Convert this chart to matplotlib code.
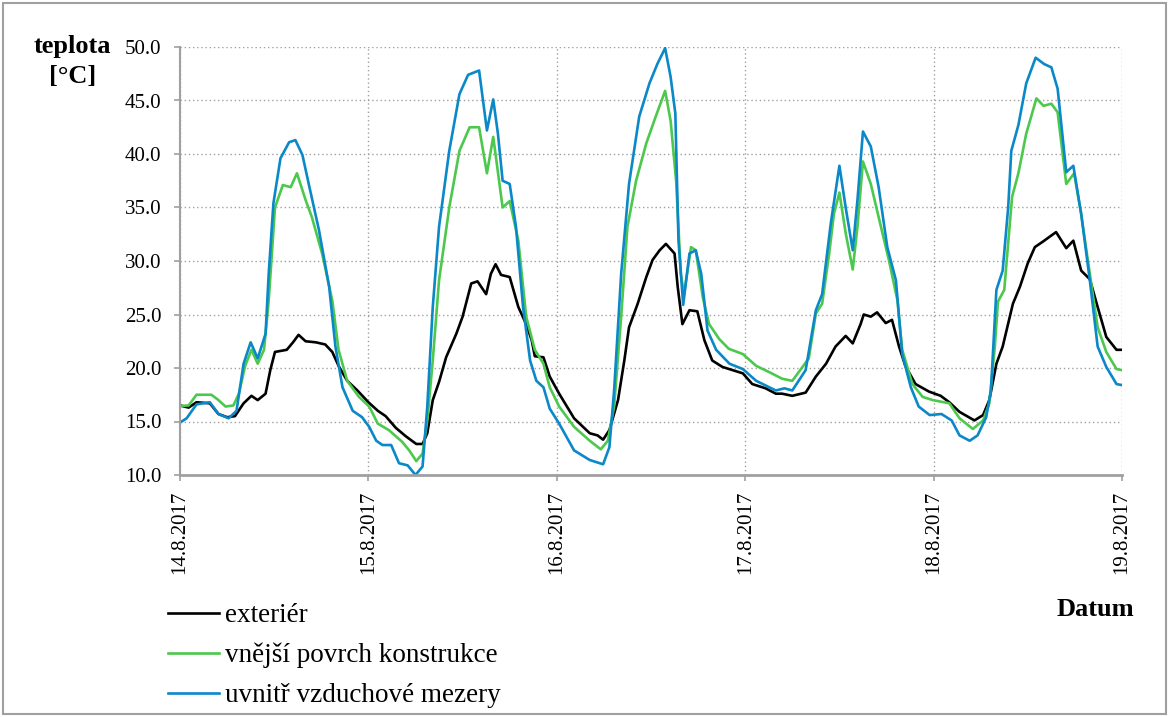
import matplotlib.pyplot as plt
from matplotlib.patches import Rectangle

# time in hours from 14.8.2017 0:00, temperature in degC
ext_h = [0, 1.1, 2.1, 3.8, 4.9, 6.0, 7.0, 8.1, 9.1, 9.9, 10.9, 11.5, 12.1, 13.6, 14.4, 15.1, 16.0,
         17.3, 18.5, 19.4, 20.2, 21.3, 22.6, 24.0, 25.2, 26.2, 27.5, 28.8, 30.1, 30.9, 31.5, 32.2,
         33.0, 33.9, 35.2, 36.0, 37.1, 37.9, 39.0, 39.6, 40.2, 40.9, 42.0, 43.1, 44.1, 44.8, 45.2,
         46.3, 47.1, 48.3, 50.2, 52.2, 53.2, 53.9, 54.7, 55.8, 56.6, 57.2, 58.3, 59.4, 60.2, 61.1,
         61.9, 63.0, 63.4, 64.0, 64.9, 65.9, 66.8, 67.8, 69.1, 70.4, 71.7, 72.9, 74.6, 75.9, 76.7,
         78.0, 79.7, 81.0, 82.3, 83.5, 84.8, 85.7, 86.7, 87.1, 88.0, 88.8, 89.9, 90.7, 91.6, 92.4,
         93.7, 95.4, 96.9, 98.0, 99.3, 101.2, 102.3, 103.1, 104.0, 104.8, 106.1, 107.0, 108.0,
         108.9, 109.9, 111.6, 112.9, 113.8, 114.8, 115.9, 116.9, 118.0, 119.3, 120.0]
ext_t = [16.5, 16.3, 16.8, 16.7, 15.7, 15.4, 15.5, 16.7, 17.4, 17.0, 17.6, 19.8, 21.5, 21.7, 22.4,
         23.1, 22.5, 22.4, 22.2, 21.5, 20.2, 18.8, 17.9, 16.8, 16.0, 15.5, 14.4, 13.6, 12.9, 12.9,
         13.9, 17.0, 18.7, 21.0, 23.2, 24.8, 27.9, 28.1, 26.9, 28.8, 29.7, 28.7, 28.5, 25.7, 24.1,
         22.6, 21.1, 21.0, 19.2, 17.6, 15.3, 13.9, 13.7, 13.3, 14.2, 17.0, 20.7, 23.8, 26.0, 28.5,
         30.1, 31.0, 31.6, 30.7, 27.6, 24.1, 25.4, 25.3, 22.6, 20.7, 20.1, 19.8, 19.5, 18.5, 18.1,
         17.6, 17.6, 17.4, 17.7, 19.2, 20.4, 22.0, 23.0, 22.3, 24.1, 25.0, 24.8, 25.2, 24.2, 24.5,
         22.0, 20.2, 18.5, 17.8, 17.4, 16.8, 15.9, 15.1, 15.6, 17.0, 20.4, 22.0, 26.0, 27.6, 29.8,
         31.3, 31.8, 32.7, 31.2, 31.9, 29.1, 28.3, 25.7, 22.9, 21.7, 21.7]

pov_h = [0, 1.1, 2.1, 4.0, 4.9, 5.8, 6.8, 7.5, 8.3, 9.1, 9.9, 10.7, 11.3, 12.1, 13.1, 14.1, 14.9,
         16.0, 16.8, 18.1, 19.4, 20.2, 21.3, 22.8, 24.1, 25.2, 26.6, 28.3, 29.2, 30.1, 30.9, 31.5,
         32.2, 33.0, 34.3, 35.6, 36.9, 38.1, 39.1, 39.9, 41.1, 42.0, 43.1, 44.1, 45.2, 46.3, 47.1,
         48.3, 50.2, 52.2, 53.6, 54.5, 55.3, 56.2, 57.0, 58.1, 59.4, 60.6, 61.8, 62.5, 63.2, 63.8,
         64.2, 65.1, 65.7, 66.6, 67.4, 68.7, 69.9, 71.7, 73.4, 75.1, 76.7, 78.0, 79.3, 80.1, 81.0,
         81.8, 82.7, 83.3, 84.0, 84.8, 85.7, 86.3, 87.0, 88.0, 89.0, 90.3, 91.4, 92.0, 93.3, 94.6,
         95.9, 98.0, 99.3, 101.0, 102.3, 103.1, 103.8, 104.2, 105.0, 106.0, 106.8, 107.8, 109.1,
         110.0, 111.0, 111.8, 112.9, 113.9, 114.8, 115.9, 116.9, 118.0, 119.3, 120.0]
pov_t = [16.45, 16.5, 17.5, 17.5, 17.0, 16.4, 16.5, 17.6, 20.2, 21.7, 20.4, 21.7, 26.3, 35.0,
         37.1, 36.9, 38.2, 35.7, 34.1, 30.7, 26.3, 21.7, 18.8, 17.3, 16.4, 14.8, 14.2, 13.1, 12.3,
         11.3, 12.0, 15.1, 20.7, 28.2, 35.0, 40.3, 42.5, 42.5, 38.2, 41.6, 35.0, 35.6, 31.9, 24.8,
         21.7, 20.4, 18.2, 16.4, 14.5, 13.2, 12.4, 13.2, 16.4, 24.8, 33.2, 37.5, 41.0, 43.5, 45.9,
         43.1, 37.5, 28.8, 26.9, 31.3, 31.0, 26.6, 24.1, 22.7, 21.8, 21.3, 20.2, 19.6, 19.0, 18.8,
         20.1, 20.9, 25.1, 26.0, 30.7, 34.4, 36.4, 32.6, 29.2, 33.2, 39.3, 37.2, 34.1, 30.1, 26.3,
         21.7, 18.5, 17.3, 17.0, 16.7, 15.3, 14.3, 15.1, 16.7, 22.0, 26.2, 27.3, 36.0, 38.2, 41.9,
         45.2, 44.5, 44.7, 43.9, 37.2, 38.2, 34.4, 28.8, 23.8, 21.5, 19.9, 19.8]

mez_h = [0, 0.85, 2.1, 3.8, 4.9, 6.2, 7.2, 8.1, 9.0, 9.9, 10.9, 11.3, 11.9, 12.8, 13.9, 14.7, 15.6,
         16.4, 17.7, 19.0, 19.8, 20.7, 22.0, 23.2, 24.1, 25.0, 25.8, 26.9, 27.9, 29.0, 30.0, 30.9,
         31.5, 32.2, 33.0, 34.3, 35.6, 36.7, 38.1, 38.6, 39.1, 39.9, 40.5, 41.1, 42.0, 42.8, 43.7,
         44.6, 45.4, 46.3, 47.1, 48.3, 50.2, 52.2, 53.9, 54.7, 55.3, 56.2, 57.2, 58.5, 59.8, 60.8,
         61.8, 62.5, 63.1, 63.5, 64.1, 64.9, 65.7, 66.4, 67.2, 68.3, 70.0, 71.7, 73.4, 75.9, 77.0,
         78.0, 79.7, 81.0, 81.8, 82.9, 84.0, 84.8, 85.7, 86.3, 87.0, 88.0, 89.0, 90.1, 91.2, 92.0,
         93.1, 94.1, 95.5, 97.0, 98.3, 99.3, 100.6, 101.6, 102.7, 103.3, 104.0, 104.8, 105.5,
         105.9, 106.8, 107.8, 109.0, 110.1, 111.0, 111.8, 112.9, 113.8, 114.8, 115.9, 116.9,
         118.0, 119.3, 120.0]
mez_t = [14.9, 15.3, 16.6, 16.8, 15.7, 15.3, 16.0, 20.4, 22.4, 20.9, 23.2, 28.8, 35.4, 39.6, 41.1,
         41.3, 39.9, 37.2, 32.9, 27.6, 22.0, 18.2, 16.0, 15.4, 14.5, 13.2, 12.8, 12.8, 11.1, 10.9,
         10.0, 10.8, 16.4, 25.7, 33.2, 40.3, 45.6, 47.4, 47.8, 45.0, 42.2, 45.1, 41.9, 37.5, 37.2,
         33.2, 25.7, 20.7, 18.8, 18.2, 16.2, 14.8, 12.3, 11.4, 11.0, 12.6, 17.9, 28.8, 37.2, 43.5,
         46.6, 48.4, 49.9, 47.2, 43.8, 31.9, 25.9, 30.7, 31.0, 28.8, 23.5, 21.7, 20.4, 19.9, 18.8,
         17.9, 18.1, 17.9, 19.8, 25.4, 26.9, 33.5, 38.9, 35.0, 31.0, 35.7, 42.1, 40.7, 36.9, 31.3,
         28.2, 21.3, 18.2, 16.4, 15.6, 15.7, 15.1, 13.7, 13.2, 13.7, 15.4, 17.9, 27.3, 29.1, 35.0,
         40.3, 42.7, 46.6, 49.0, 48.4, 48.1, 46.1, 38.3, 38.9, 34.4, 28.2, 22.0, 20.1, 18.5, 18.4]

day_ticks = [0, 24, 48, 72, 96, 120]
day_labels = ["14.8.2017", "15.8.2017", "16.8.2017", "17.8.2017", "18.8.2017", "19.8.2017"]
y_ticks = [10, 15, 20, 25, 30, 35, 40, 45, 50]

plt.rcParams["font.family"] = ["Liberation Serif", "DejaVu Serif"]

fig = plt.figure(figsize=(11.7, 7.17), dpi=100)
ax = fig.add_axes([180 / 1170, 1 - 475 / 717, 942 / 1170, 428 / 717])

ax.plot(ext_h, ext_t, color="black", lw=1.9, label="exteriér")
ax.plot(pov_h, pov_t, color="#4CC84C", lw=1.9, label="vnější povrch konstrukce")
ax.plot(mez_h, mez_t, color="#0A88C8", lw=1.9, label="uvnitř vzduchové mezery")

ax.set_xlim(0, 120)
ax.set_ylim(10, 50)
ax.set_xticks(day_ticks)
ax.set_xticklabels(day_labels, rotation=90, fontsize=15)
ax.set_yticks(y_ticks)
ax.set_yticklabels(["%.1f" % v for v in y_ticks], fontsize=15)

ax.grid(True, color="#A0A0A0", linestyle=(0, (1, 2)), lw=1.0)
for s in ["top", "right"]:
    ax.spines[s].set_visible(False)
for s in ["left", "bottom"]:
    ax.spines[s].set_color("#A0A0A0")
ax.spines["left"].set_linewidth(1.5)
ax.spines["bottom"].set_linewidth(2)
ax.tick_params(axis="both", colors="#A0A0A0", labelcolor="black", length=4.5, width=1.2)
ax.tick_params(axis="y", pad=9)
ax.tick_params(axis="x", pad=6.5)

fig.text(72 / 1170, 1 - 46 / 717, "teplota", fontsize=19, fontweight="bold", ha="center", va="center")
fig.text(73 / 1170, 1 - 76 / 717, "[°C]", fontsize=19, fontweight="bold", ha="center", va="center")
fig.text(1134 / 1170, 1 - 609 / 717, "Datum", fontsize=19, fontweight="bold", ha="right", va="center")

fig.legend(loc="upper left", bbox_to_anchor=(168 / 1170, 1 - 603 / 717), frameon=False,
           fontsize=19.5, handlelength=1.9, handletextpad=0.2, labelspacing=0.55,
           borderpad=0, borderaxespad=0)

fig.patches.append(Rectangle((3 / 1170, 3 / 717), 1163 / 1170, 711 / 717, transform=fig.transFigure,
                             fill=False, edgecolor="#A0A0A0", lw=1.5))

fig.savefig("out.png", dpi=100)
